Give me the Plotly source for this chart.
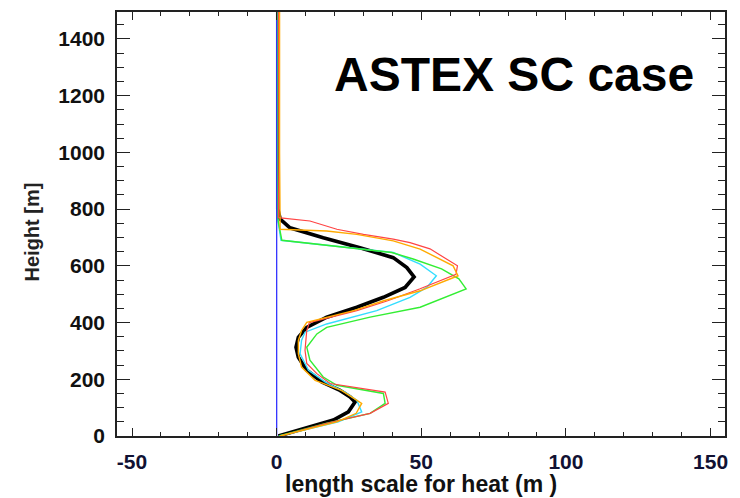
import plotly.graph_objects as go

# ---- data (length scale for heat [m] vs height [m]) ----
black_x = [0.6, 8.1, 19.6, 24.8, 27.1, 25.4, 21.9, 15.6, 10.4, 7.5, 6.7, 7.5, 10.4, 17.3, 27.7, 36.9, 44.4, 47.5, 45.0, 40.3, 28.8, 16.1, 4.6, 1.2, 0.4, 0.4]
black_h = [0, 21, 56, 85, 120, 138, 161, 191, 232, 278, 313, 348, 383, 419, 454, 489, 524, 561, 594, 629, 664, 699, 734, 765, 800, 1500]

red_x = [1.2, 17.3, 32.3, 38.6, 37.5, 18.5, 13.9, 10.4, 9.8, 10.4, 11.3, 27.7, 38.4, 49.6, 62.0, 62.5, 53.0, 46.1, 40.3, 30.0, 20.8, 11.5, 0.6, 0.8, 0.6]
red_h = [0, 45, 80, 115, 155, 185, 220, 256, 302, 372, 400, 442, 477, 519, 570, 600, 660, 682, 694, 711, 729, 758, 770, 1000, 1500]

orange_x = [1.2, 20.8, 27.5, 29.4, 25.9, 22.4, 13.3, 8.6, 7.5, 7.5, 8.6, 10.4, 26.6, 37.0, 49.6, 62.7, 61.0, 49.6, 40.3, 27.7, 17.3, 1.2, 1.0, 1.0]
orange_h = [0, 50, 80, 115, 138, 161, 196, 243, 290, 337, 372, 401, 442, 477, 512, 565, 600, 659, 688, 711, 723, 729, 1000, 1500]

green_x = [0.8, 17.3, 32.3, 37.5, 36.9, 20.8, 16.1, 11.5, 10.4, 13.9, 17.3, 32.3, 49.6, 58.0, 65.5, 63.0, 57.0, 47.2, 39.8, 1.8, 0.3, 0.3]
green_h = [0, 45, 80, 115, 150, 179, 208, 267, 313, 360, 383, 419, 454, 489, 519, 554, 589, 624, 647, 690, 770, 1500]

cyan_x = [0.8, 21.3, 29.4, 27.7, 23.6, 16.7, 11.0, 8.1, 8.6, 9.8, 17.3, 34.6, 46.1, 52.0, 55.2, 49.6, 40.3, 1.5, 0.3, 0.3]
cyan_h = [0, 50, 85, 126, 155, 191, 232, 290, 337, 366, 395, 442, 489, 525, 565, 606, 647, 690, 770, 1500]

zero_x = [0, 0]
zero_h = [0, 1500]

x_ticks = [-50, 0, 50, 100, 150]
y_ticks = [0, 200, 400, 600, 800, 1000, 1200, 1400]

FONT = "Liberation Sans, Arial, sans-serif"

fig = go.Figure()
fig.add_trace(go.Scatter(x=black_x, y=black_h, mode="lines",
                         line=dict(color="#000000", width=3.7), name="black"))
fig.add_trace(go.Scatter(x=cyan_x, y=cyan_h, mode="lines",
                         line=dict(color="#33ddff", width=1.4), name="cyan"))
fig.add_trace(go.Scatter(x=green_x, y=green_h, mode="lines",
                         line=dict(color="#33ee33", width=1.4), name="green"))
fig.add_trace(go.Scatter(x=red_x, y=red_h, mode="lines",
                         line=dict(color="#ff4444", width=1.2), name="red"))
fig.add_trace(go.Scatter(x=orange_x, y=orange_h, mode="lines",
                         line=dict(color="#ffaa00", width=1.4), name="orange"))
fig.add_trace(go.Scatter(x=zero_x, y=zero_h, mode="lines",
                         line=dict(color="#3333ff", width=1.3), name="zero"))

fig.update_layout(
    width=740, height=498,
    margin=dict(l=117, r=15, t=10, b=62),
    paper_bgcolor="white", plot_bgcolor="white",
    showlegend=False,
    font=dict(family=FONT, color="#111111"),
)

fig.update_xaxes(
    range=[-55.2, 155], tickvals=x_ticks, ticktext=[str(v) for v in x_ticks],
    ticks="inside", ticklen=8, tickwidth=1.3, tickcolor="#222",
    showline=True, linecolor="#222", linewidth=1.6, mirror="allticks",
    showgrid=False, zeroline=False,
    tickfont=dict(size=21, family=FONT, color="#111133", weight="bold"),
    ticklabelstandoff=6,
    minor=dict(dtick=10, tick0=0, ticks="inside", ticklen=4, tickwidth=1.2,
               tickcolor="#222", showgrid=False),
)
fig.update_yaxes(
    range=[0, 1495], tickvals=y_ticks, ticktext=[str(v) for v in y_ticks],
    ticks="inside", ticklen=13, tickwidth=1.3, tickcolor="#222",
    showline=True, linecolor="#222", linewidth=1.6, mirror="allticks",
    showgrid=False, zeroline=False,
    tickfont=dict(size=21, family=FONT, color="#111111", weight="bold"),
    ticklabelstandoff=6,
    minor=dict(dtick=50, tick0=0, ticks="inside", ticklen=7, tickwidth=1.2,
               tickcolor="#222", showgrid=False),
)

fig.add_annotation(text="<b>length scale for heat (m )</b>", xref="paper", yref="paper",
                   x=0.5, y=0, yshift=-48, xanchor="center", yanchor="middle",
                   showarrow=False, font=dict(size=23, family=FONT, color="#111111"))
fig.add_annotation(text="<b>Height [m]</b>", xref="paper", yref="paper",
                   x=0, xshift=-85, y=0.48, xanchor="center", yanchor="middle",
                   textangle=-90, showarrow=False,
                   font=dict(size=20, family=FONT, color="#222222"))
fig.add_annotation(text="<b>ASTEX SC case</b>", xref="paper", yref="paper",
                   x=0.953, y=0.852, xanchor="right", yanchor="middle",
                   showarrow=False, font=dict(size=48, family=FONT, color="#000000"))

fig.write_html("out.html", config={"displayModeBar": False},
               post_script="document.body.style.margin='0';")
